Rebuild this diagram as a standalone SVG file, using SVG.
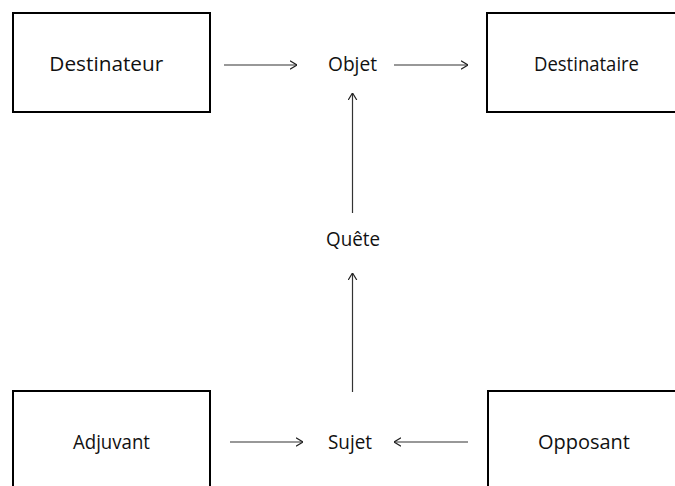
<svg xmlns="http://www.w3.org/2000/svg" width="675" height="486" viewBox="0 0 675 486">
<style>
.box{fill:#fff;stroke:#000;stroke-width:2}
.lbl{font-family:"Open Sans","Liberation Sans",sans-serif;font-size:20px;fill:#111;text-anchor:middle}
.conn{stroke:#333;stroke-width:1.2;fill:none;marker-end:url(#arr)}
</style>
<defs>
<marker id="arr" viewBox="0 0 7 10" refX="7" refY="5" markerWidth="7" markerHeight="10" markerUnits="userSpaceOnUse" orient="auto">
<path d="M0,0.7 L7,5 L0,9.3" fill="none" stroke="#222" stroke-width="1.2"/>
</marker>
</defs>
<rect width="675" height="486" fill="#fff"/>
<g id="destinateur"><rect class="box" x="13" y="13" width="197" height="99"/><text class="lbl" x="106.3" y="71" textLength="114" lengthAdjust="spacingAndGlyphs">Destinateur</text></g>
<g id="objet"><text class="lbl" x="352.5" y="71" textLength="49" lengthAdjust="spacingAndGlyphs">Objet</text></g>
<g id="destinataire"><rect class="box" x="487" y="13" width="200" height="99"/><text class="lbl" x="586.5" y="71" textLength="105" lengthAdjust="spacingAndGlyphs">Destinataire</text></g>
<g id="quete"><text class="lbl" x="353" y="246" textLength="54" lengthAdjust="spacingAndGlyphs">Quête</text></g>
<g id="adjuvant"><rect class="box" x="13" y="391" width="197" height="120"/><text class="lbl" x="111.5" y="449" textLength="77" lengthAdjust="spacingAndGlyphs">Adjuvant</text></g>
<g id="sujet"><text class="lbl" x="350" y="449" textLength="44" lengthAdjust="spacingAndGlyphs">Sujet</text></g>
<g id="opposant"><rect class="box" x="488" y="391" width="200" height="120"/><text class="lbl" x="584" y="449" textLength="92" lengthAdjust="spacingAndGlyphs">Opposant</text></g>
<g id="connectors">
<line class="conn" x1="224" y1="65" x2="297" y2="65"/>
<line class="conn" x1="394" y1="65" x2="468" y2="65"/>
<line class="conn" x1="352.5" y1="213" x2="352.5" y2="93"/>
<line class="conn" x1="352.5" y1="392" x2="352.5" y2="273"/>
<line class="conn" x1="230" y1="442" x2="303" y2="442"/>
<line class="conn" x1="468" y1="442" x2="394" y2="442"/>
</g>
</svg>
